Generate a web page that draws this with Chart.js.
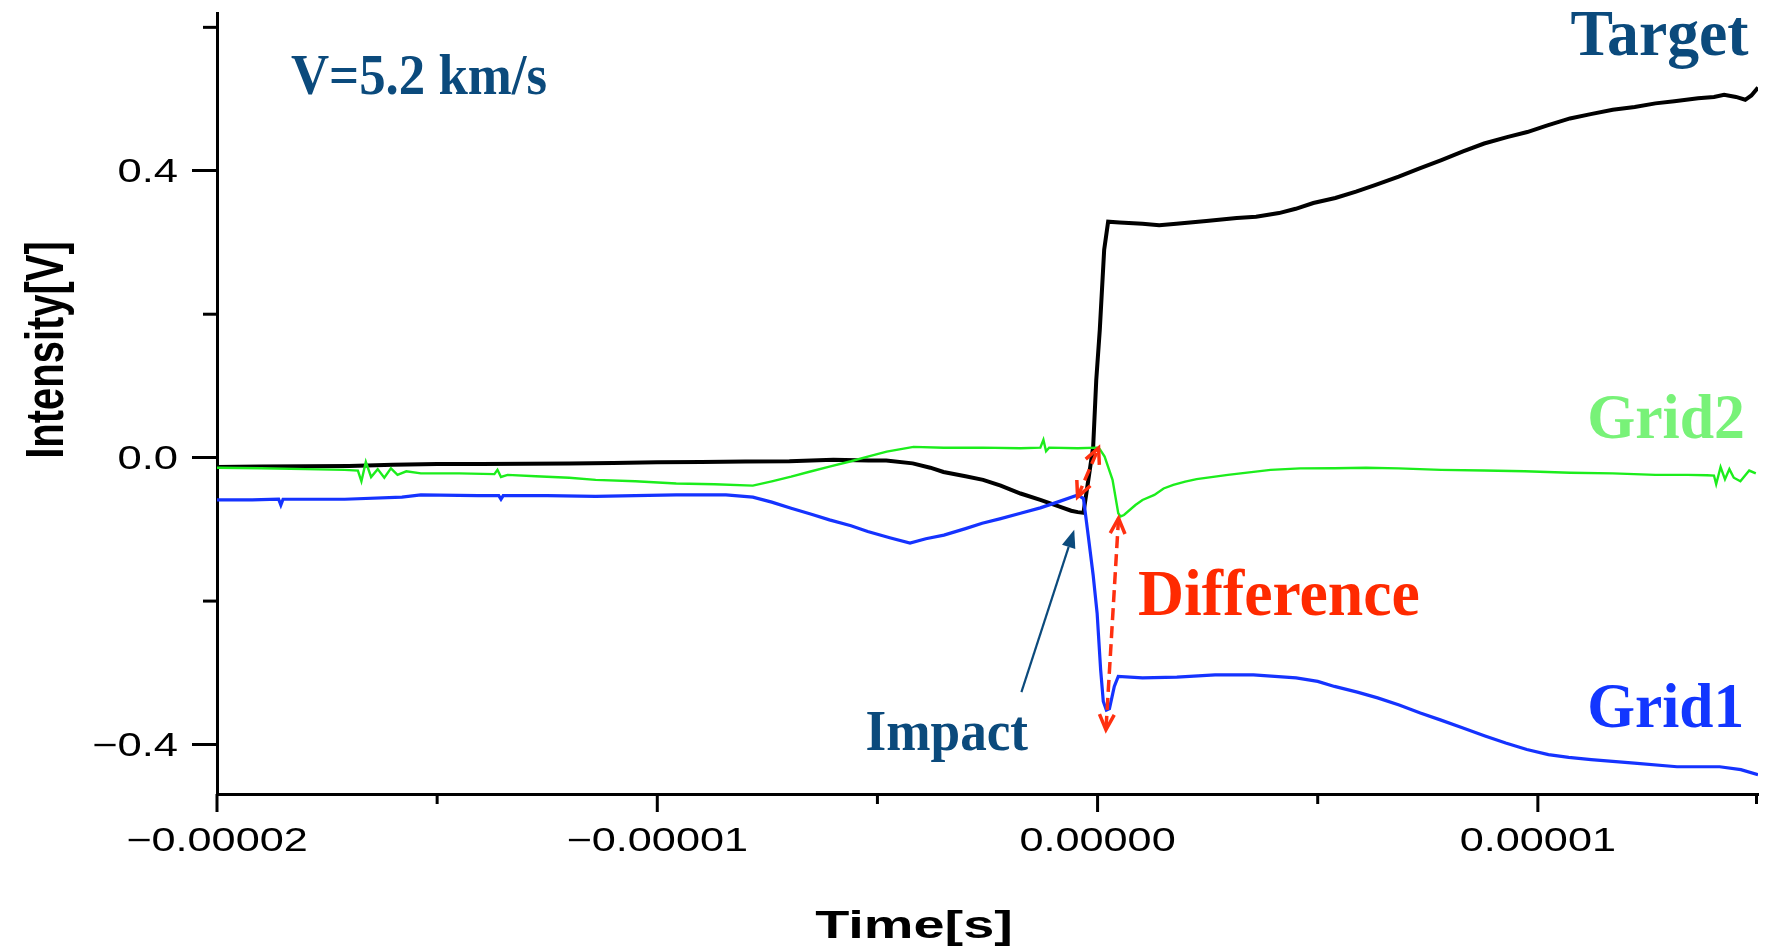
<!DOCTYPE html>
<html>
<head>
<meta charset="utf-8">
<script src="https://cdn.jsdelivr.net/npm/chart.js@4.4.0/dist/chart.umd.min.js"></script>
<style>
  html, body { margin: 0; padding: 0; background: #fff; }
  canvas { display: block; }
</style>
</head>
<body>
<canvas id="traceChart" width="1771" height="946"></canvas>
<script>
// time is in microseconds, intensity in volts
const targetTime = [-20, -19, -18, -17, -16, -15, -14, -13, -12, -11, -10, -9, -8, -7, -6, -5.2, -4.8, -4.2, -3.8, -3.5,
    -3.0, -2.6, -2.2, -1.75, -1.3, -0.88, -0.6, -0.45, -0.32, -0.21, -0.1, -0.03, 0.05, 0.15, 0.24, 0.5, 1.02, 1.4, 1.79, 2.1,
    2.47, 3.16, 3.6, 4.12, 4.5, 4.9, 5.4, 5.87, 6.3, 6.84, 7.3, 7.81, 8.3, 8.78, 9.3, 9.76, 10.2, 10.73, 11.2, 11.7,
    12.2, 12.67, 13.1, 13.64, 14.0, 14.23, 14.5, 14.71, 14.85, 15.0];
const targetVolt = [-0.013, -0.0125, -0.012, -0.0115, -0.010, -0.009, -0.009, -0.0085, -0.008, -0.0075, -0.0065, -0.006, -0.0055, -0.005, -0.003, -0.004, -0.004, -0.008, -0.014, -0.020,
    -0.026, -0.031, -0.039, -0.050, -0.059, -0.068, -0.074, -0.076, -0.077, -0.031, 0.015, 0.108, 0.178, 0.29, 0.329, 0.328, 0.326, 0.324, 0.326, 0.328,
    0.330, 0.334, 0.336, 0.341, 0.347, 0.355, 0.362, 0.371, 0.380, 0.392, 0.403, 0.415, 0.427, 0.438, 0.447, 0.454, 0.463, 0.473, 0.479, 0.485,
    0.489, 0.494, 0.497, 0.501, 0.503, 0.506, 0.503, 0.499, 0.505, 0.516];

const grid2Time = [-20, -19, -18, -17.1, -16.8, -16.72, -16.62, -16.5, -16.35, -16.2, -16.05, -15.9, -15.7, -15.37, -14.5, -13.7, -13.63, -13.55, -13.4, -12.76,
    -12, -11.4, -10.5, -9.57, -8.7, -7.83, -7.4, -6.96, -6.5, -6.09, -5.6, -5.22, -4.79, -4.18, -3.49, -2.62, -1.75, -1.3, -1.23, -1.17,
    -1.1, -0.45, -0.01, 0.05, 0.16, 0.34, 0.47, 0.52, 0.6, 0.86, 1.02, 1.29, 1.5, 1.72, 1.99, 2.25, 2.96, 3.93, 4.6, 5.38,
    6.1, 6.84, 7.8, 8.78, 9.7, 10.73, 11.7, 12.67, 13.4, 13.84, 14.0, 14.05, 14.15, 14.25, 14.35, 14.45, 14.6, 14.8, 14.95];
const grid2Volt = [-0.014, -0.0148, -0.016, -0.017, -0.018, -0.033, -0.006, -0.027, -0.016, -0.028, -0.015, -0.024, -0.019, -0.022, -0.022, -0.023, -0.017, -0.027, -0.024, -0.026,
    -0.028, -0.031, -0.033, -0.036, -0.037, -0.039, -0.033, -0.0265, -0.019, -0.0125, -0.005, 0.0014, 0.0084, 0.015, 0.0138, 0.014, 0.013, 0.014, 0.025, 0.009,
    0.014, 0.013, 0.014, 0.012, 0.0014, -0.031, -0.0776, -0.082, -0.080, -0.066, -0.059, -0.052, -0.043, -0.038, -0.0334, -0.030, -0.024, -0.017, -0.015, -0.0148,
    -0.014, -0.015, -0.017, -0.018, -0.019, -0.021, -0.022, -0.024, -0.024, -0.0246, -0.025, -0.037, -0.013, -0.030, -0.016, -0.028, -0.033, -0.018, -0.022];

const grid1Time = [-20, -19.2, -18.6, -18.55, -18.5, -17.1, -15.8, -15.37, -14.07, -13.6, -13.55, -13.5, -12.5, -11.4, -10.5, -9.57, -8.44, -7.83, -7.4, -6.96,
    -6.5, -6.09, -5.6, -5.22, -4.7, -4.26, -3.9, -3.49, -3.0, -2.62, -2.2, -1.75, -1.3, -0.88, -0.45, -0.32, -0.21, -0.1, -0.01, 0.07,
    0.13, 0.2, 0.27, 0.38, 0.47, 1.02, 1.8, 2.67, 3.54, 4.51, 5.0, 5.38, 5.9, 6.36, 6.85, 7.33, 7.8, 8.3, 8.8, 9.27,
    9.75, 10.24, 10.7, 11.21, 12.19, 13.16, 14.13, 14.61, 15.0];
const grid1Volt = [-0.059, -0.059, -0.058, -0.066, -0.058, -0.058, -0.055, -0.052, -0.053, -0.053, -0.058, -0.053, -0.053, -0.054, -0.053, -0.052, -0.052, -0.055, -0.062, -0.0706,
    -0.079, -0.0868, -0.095, -0.103, -0.112, -0.119, -0.113, -0.108, -0.099, -0.0915, -0.085, -0.0776, -0.070, -0.0613, -0.052, -0.057, -0.110, -0.164, -0.217, -0.296,
    -0.340, -0.352, -0.350, -0.319, -0.305, -0.307, -0.306, -0.303, -0.303, -0.307, -0.312, -0.319, -0.327, -0.335, -0.345, -0.356, -0.366, -0.377, -0.388, -0.398,
    -0.407, -0.414, -0.418, -0.421, -0.426, -0.431, -0.431, -0.435, -0.442];

const xMajorTicks = [-20, -10, 0, 10];
const xTickLabels = ['\u22120.00002', '\u22120.00001', '0.00000', '0.00001'];
const xMinorTicks = [-15, -5, 5, 15];
const yMajorTicks = [-0.4, 0, 0.4];
const yTickLabels = ['\u22120.4', '0.0', '0.4'];
const yMinorTicks = [-0.2, 0.2, 0.6];

const NAVY = '#0b4a7c';
const SERIF = '"Liberation Serif", "Times New Roman", serif';
const SANS = '"Liberation Sans", Arial, sans-serif';

// text labels placed in data units (t in µs, V in volts)
const notes = [
    { text: 'V=5.2 km/s', t: -18.32, v: 0.507, size: 56, sx: 0.943, color: NAVY },
    { text: 'Target', t: 10.74, v: 0.561, size: 65, sx: 0.98, color: NAVY },
    { text: 'Grid2', t: 11.12, v: 0.0275, size: 63, sx: 0.98, color: '#78f278' },
    { text: 'Grid1', t: 11.12, v: -0.3754, size: 64, sx: 0.96, color: '#1236ff' },
    { text: 'Difference', t: 0.92, v: -0.2192, size: 65, sx: 0.98, color: '#ff2a00' },
    { text: 'Impact', t: -5.27, v: -0.4077, size: 56, sx: 0.95, color: NAVY },
];

function toPoints(ts, vs) {
    return ts.map((t, i) => ({ x: t, y: vs[i] }));
}

function drawText(ctx, text, x, y, font, color, sx, align) {
    ctx.save();
    ctx.translate(x, y);
    ctx.scale(sx, 1);
    ctx.font = font;
    ctx.fillStyle = color;
    ctx.textAlign = align || 'left';
    ctx.textBaseline = 'alphabetic';
    ctx.fillText(text, 0, 0);
    ctx.restore();
}

function chevron(ctx, tipX, tipY, fromX, fromY, len) {
    const a = Math.atan2(tipY - fromY, tipX - fromX);
    ctx.beginPath();
    ctx.moveTo(tipX - len * Math.cos(a - 0.45), tipY - len * Math.sin(a - 0.45));
    ctx.lineTo(tipX, tipY);
    ctx.lineTo(tipX - len * Math.cos(a + 0.45), tipY - len * Math.sin(a + 0.45));
    ctx.stroke();
}

function dashedArrow(ctx, x1, y1, x2, y2) {
    ctx.save();
    ctx.strokeStyle = '#ff3010';
    ctx.lineWidth = 3.5;
    ctx.setLineDash([12, 6]);
    ctx.beginPath();
    ctx.moveTo(x1, y1);
    ctx.lineTo(x2, y2);
    ctx.stroke();
    ctx.setLineDash([]);
    chevron(ctx, x1, y1, x2, y2, 17);
    chevron(ctx, x2, y2, x1, y1, 17);
    ctx.restore();
}

function solidArrow(ctx, x1, y1, x2, y2) {
    const a = Math.atan2(y2 - y1, x2 - x1);
    const head = 18, half = 7;
    ctx.save();
    ctx.strokeStyle = NAVY;
    ctx.fillStyle = NAVY;
    ctx.lineWidth = 2.2;
    ctx.beginPath();
    ctx.moveTo(x1, y1);
    ctx.lineTo(x2 - head * Math.cos(a), y2 - head * Math.sin(a));
    ctx.stroke();
    ctx.beginPath();
    ctx.moveTo(x2, y2);
    ctx.lineTo(x2 - head * Math.cos(a) + half * Math.sin(a), y2 - head * Math.sin(a) - half * Math.cos(a));
    ctx.lineTo(x2 - head * Math.cos(a) - half * Math.sin(a), y2 - head * Math.sin(a) + half * Math.cos(a));
    ctx.closePath();
    ctx.fill();
    ctx.restore();
}

const decorPlugin = {
    id: 'figureDecor',
    afterDraw(chart) {
        const { ctx, chartArea, scales: { x, y } } = chart;
        const bottom = chartArea.bottom, left = chartArea.left;

        // outward ticks
        ctx.save();
        ctx.strokeStyle = '#000';
        ctx.lineWidth = 3;
        xMajorTicks.forEach(t => {
            const px = x.getPixelForValue(t);
            ctx.beginPath(); ctx.moveTo(px, bottom); ctx.lineTo(px, bottom + 18); ctx.stroke();
        });
        xMinorTicks.forEach(t => {
            const px = Math.min(x.getPixelForValue(t), chartArea.right - 1.5);
            ctx.beginPath(); ctx.moveTo(px, bottom); ctx.lineTo(px, bottom + 10); ctx.stroke();
        });
        yMinorTicks.forEach(v => {
            const py = y.getPixelForValue(v);
            ctx.beginPath(); ctx.moveTo(left - 14, py); ctx.lineTo(left, py); ctx.stroke();
        });
        ctx.restore();

        // tick labels, horizontally stretched like the original
        xMajorTicks.forEach((t, i) => {
            drawText(ctx, xTickLabels[i], x.getPixelForValue(t), bottom + 57, '33px ' + SANS, '#000', 1.31, 'center');
        });
        yMajorTicks.forEach((v, i) => {
            drawText(ctx, yTickLabels[i], left - 39, y.getPixelForValue(v) + 11.5, '33px ' + SANS, '#000', 1.32, 'right');
        });

        // axis titles
        drawText(ctx, 'Time[s]', 914, 938, 'bold 38px ' + SANS, '#000', 1.47, 'center');
        ctx.save();
        ctx.translate(63, 350);
        ctx.rotate(-Math.PI / 2);
        ctx.scale(0.74, 1);
        ctx.font = 'bold 54px ' + SANS;
        ctx.fillStyle = '#000';
        ctx.textAlign = 'center';
        ctx.fillText('Intensity[V]', 0, 0);
        ctx.restore();

        // annotations
        notes.forEach(n => {
            drawText(ctx, n.text, x.getPixelForValue(n.t), y.getPixelForValue(n.v),
                'bold ' + n.size + 'px ' + SERIF, n.color, n.sx, 'left');
        });
        dashedArrow(ctx, x.getPixelForValue(-0.454), y.getPixelForValue(-0.0548),
            x.getPixelForValue(0.023), y.getPixelForValue(0.0135));
        dashedArrow(ctx, x.getPixelForValue(0.476), y.getPixelForValue(-0.0845),
            x.getPixelForValue(0.19), y.getPixelForValue(-0.3795));
        solidArrow(ctx, x.getPixelForValue(-1.73), y.getPixelForValue(-0.327),
            x.getPixelForValue(-0.53), y.getPixelForValue(-0.1006));
    }
};

new Chart(document.getElementById('traceChart').getContext('2d'), {
    type: 'line',
    data: {
        datasets: [
            { label: 'Grid2', data: toPoints(grid2Time, grid2Volt), borderColor: '#1ced1c', borderWidth: 2.4 },
            { label: 'Grid1', data: toPoints(grid1Time, grid1Volt), borderColor: '#1533ff', borderWidth: 3.2 },
            { label: 'Target', data: toPoints(targetTime, targetVolt), borderColor: '#000000', borderWidth: 4 },
        ]
    },
    options: {
        responsive: false,
        animation: false,
        events: [],
        elements: {
            point: { radius: 0 },
            line: { tension: 0, fill: false }
        },
        layout: { padding: { top: 13, right: 13, left: 0, bottom: 0 } },
        plugins: {
            legend: { display: false },
            tooltip: { enabled: false },
            title: { display: false }
        },
        scales: {
            x: {
                type: 'linear',
                min: -20,
                max: 15,
                afterFit: s => { s.height = 152; s.paddingLeft = 0; s.paddingRight = 0; },
                grid: { display: false, drawTicks: false },
                border: { display: true, color: '#000', width: 3 },
                ticks: { display: false, stepSize: 5 }
            },
            y: {
                type: 'linear',
                min: -0.469,
                max: 0.62,
                afterFit: s => { s.width = 217; s.paddingTop = 0; s.paddingBottom = 0; },
                grid: { display: true, drawOnChartArea: false, drawTicks: true, tickLength: 25, tickWidth: 3, tickColor: '#000' },
                border: { display: true, color: '#000', width: 3 },
                ticks: { display: false, stepSize: 0.4, includeBounds: false }
            }
        }
    },
    plugins: [decorPlugin]
});
</script>
</body>
</html>
